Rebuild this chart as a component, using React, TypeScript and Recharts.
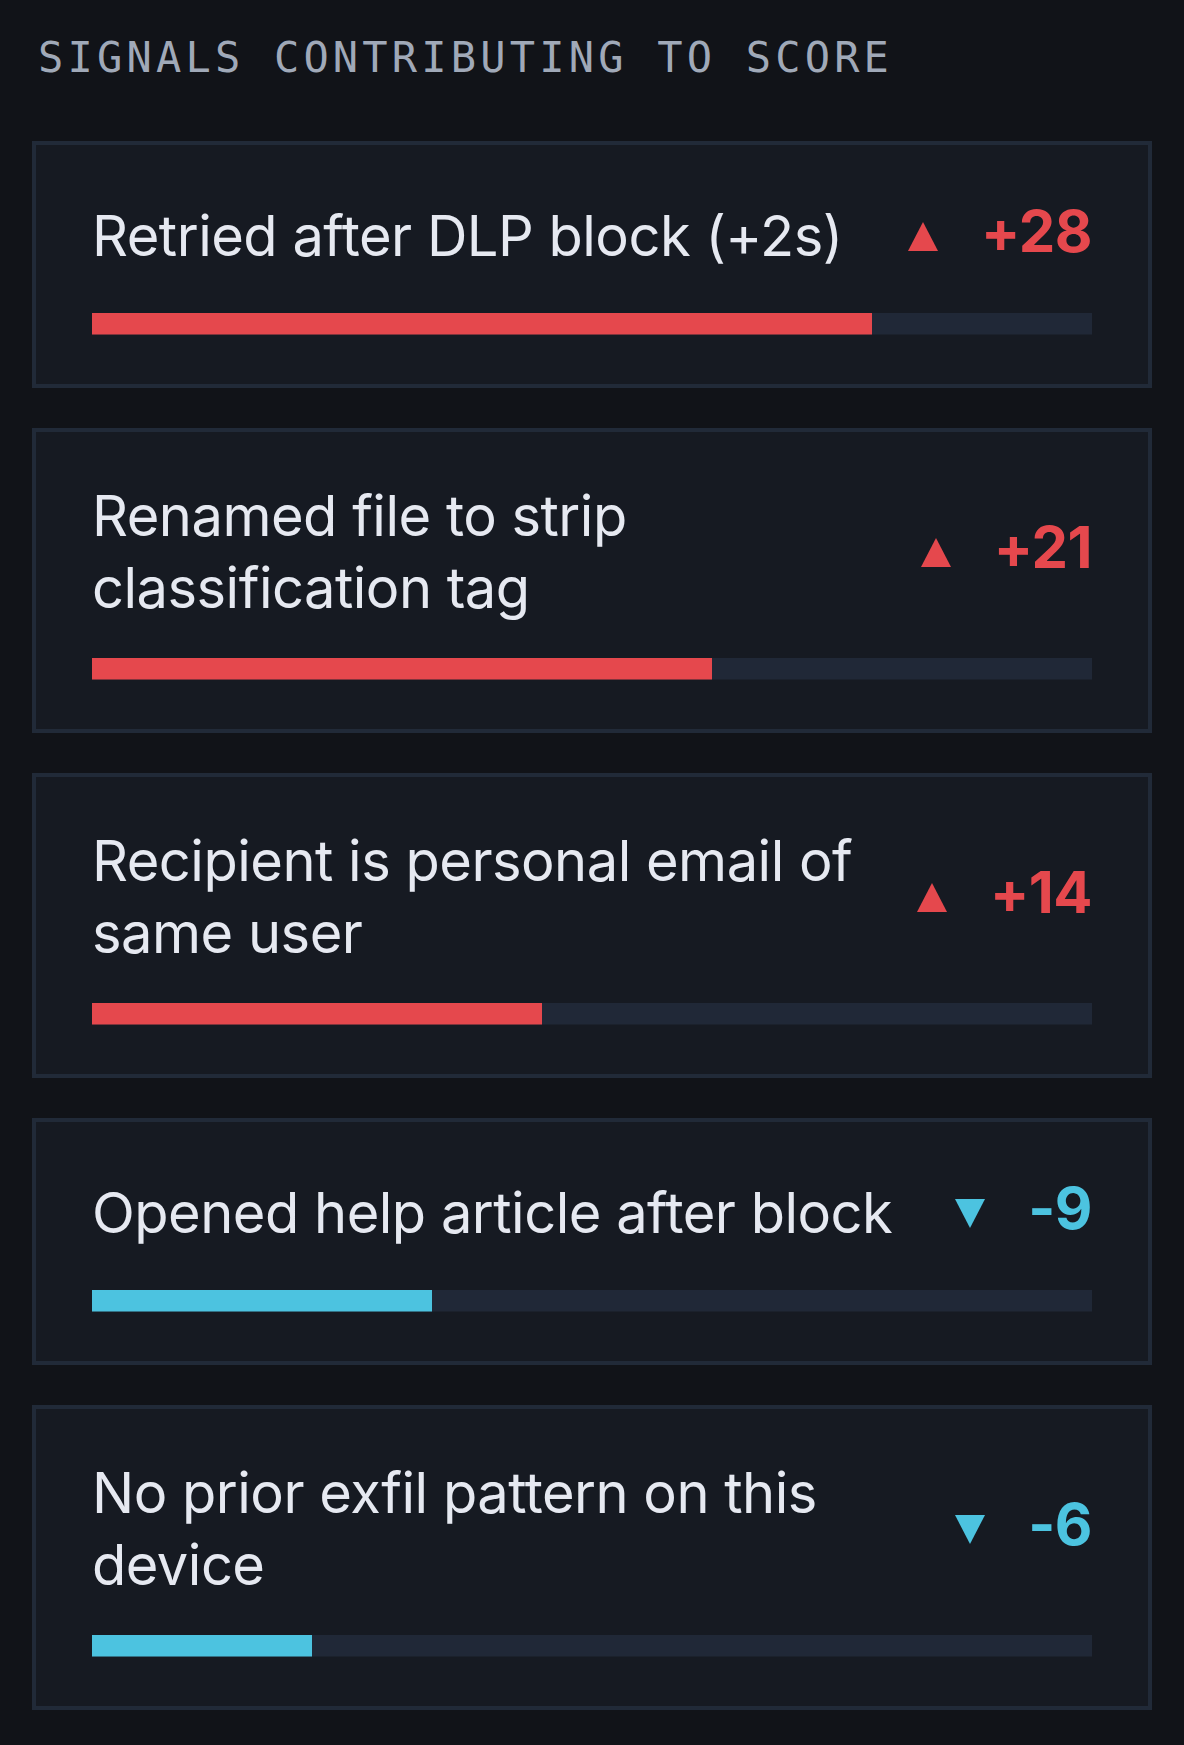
import React from 'react';
import { BarChart, Bar, XAxis, YAxis } from 'recharts';

const signals = [
    'Retried after DLP block (+2s)',
    'Renamed file to strip classification tag',
    'Recipient is personal email of same user',
    'Opened help article after block',
    'No prior exfil pattern on this device',
];
const scores = [28, 21, 14, -9, -6];
const scoreLabels = ['+28', '+21', '+14', '-9', '-6'];
// bar fill share (0-100)
const weights = [78, 62, 45, 34, 22];

const RED = '#e5484d';
const CYAN = '#4cc3e0';
const TRACK = '#202837';
const CARD_BG = '#161a22';
const CARD_BORDER = '#212a38';
const PAGE_BG = '#111318';

const Arrow: React.FC<{ up: boolean; color: string }> = ({ up, color }) => (
    <svg width={30} height={29} style={{ display: 'block', flex: 'none' }}>
        <polygon points={up ? '15,0 30,29 0,29' : '0,0 30,0 15,29'} fill={color} />
    </svg>
);

const SignalBar: React.FC<{ name: string; weight: number; color: string }> = ({ name, weight, color }) => (
    <div style={{ height: 24 }}>
        <BarChart
            width={1000}
            height={24}
            layout="vertical"
            data={[{ name, weight }]}
            margin={{ top: 0, right: 0, bottom: 0, left: 0 }}
            barCategoryGap={0}
        >
            <XAxis type="number" domain={[0, 100]} hide />
            <YAxis type="category" dataKey="name" hide />
            <Bar
                dataKey="weight"
                fill={color}
                background={{ fill: TRACK }}
                barSize={24}
                isAnimationActive={false}
            />
        </BarChart>
    </div>
);

const App: React.FC = () => {
    return (
        <div
            style={{
                position: 'absolute',
                left: 0,
                top: 0,
                width: 1184,
                height: 1745,
                background: PAGE_BG,
                boxSizing: 'border-box',
                paddingTop: 37,
                paddingLeft: 32,
                paddingRight: 32,
                fontFamily: 'Inter, "Noto Sans", sans-serif',
            }}
        >
            <div
                style={{
                    fontFamily: '"DejaVu Sans Mono", monospace',
                    fontSize: 42,
                    lineHeight: '42px',
                    letterSpacing: 4.2,
                    color: '#a0a9b8',
                    marginLeft: 6,
                    height: 42,
                    marginBottom: 62,
                    whiteSpace: 'nowrap',
                }}
            >
                SIGNALS CONTRIBUTING TO SCORE
            </div>
            {signals.map((s, i) => {
                const up = scores[i] > 0;
                const color = up ? RED : CYAN;
                return (
                    <div
                        key={s}
                        style={{
                            border: `4px solid ${CARD_BORDER}`,
                            background: CARD_BG,
                            padding: '48px 56px',
                            marginBottom: 40,
                        }}
                    >
                        <div style={{ display: 'flex', alignItems: 'center', marginBottom: 33 }}>
                            <div
                                style={{
                                    flex: 1,
                                    minWidth: 0,
                                    marginRight: 40,
                                    fontSize: 56,
                                    lineHeight: '72px',
                                    letterSpacing: -0.5,
                                    color: '#e6e9f1',
                                }}
                            >
                                {s}
                            </div>
                            <Arrow up={up} color={color} />
                            <div
                                style={{
                                    marginLeft: 43,
                                    fontSize: 58,
                                    fontWeight: 700,
                                    lineHeight: '86px',
                                    letterSpacing: -0.5,
                                    color,
                                    position: 'relative',
                                    top: -5,
                                    whiteSpace: 'nowrap',
                                }}
                            >
                                {scoreLabels[i]}
                            </div>
                        </div>
                        <SignalBar name={s} weight={weights[i]} color={color} />
                    </div>
                );
            })}
        </div>
    );
};

export default App;
